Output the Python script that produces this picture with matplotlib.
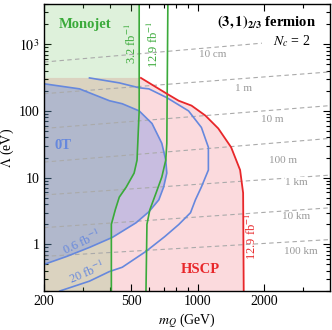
import numpy as np
import matplotlib
matplotlib.use("Agg")
import matplotlib.pyplot as plt
from matplotlib.ticker import FixedLocator, NullFormatter

plt.rcParams['font.family'] = 'serif'
plt.rcParams['font.serif'] = ['Liberation Serif', 'DejaVu Serif']
plt.rcParams['mathtext.fontset'] = 'stix'

# monojet limits, m_Q in GeV vs Lambda in eV
mono32_lam = [4000, 100, 18.3, 11.7, 7.2, 5.1, 3.3, 2.0, 0.2]
mono32_m = [542, 542, 530, 514, 473, 440, 422, 405, 405]
mono129_lam = [4000, 32.7, 18.3, 10.2, 5.9, 3.3, 2.0, 0.2]
mono129_m = [732, 724, 716, 687, 647, 606, 588, 582]

# HSCP 12.9 fb^-1 boundary
hscp_m = [552, 724, 820, 938, 1085, 1241, 1420, 1560, 1610, 1620]
hscp_lam = [312, 181, 142, 120, 85, 54.6, 28.5, 13, 5.9, 0.2]

# 0T 0.6 fb^-1 region
m06 = [200, 290, 397, 454, 542, 620, 687, 716, 724, 700, 666, 600, 525, 409, 322, 254, 200]
lam06 = [255, 214, 142, 128, 100, 64.8, 32.7, 18.3, 11.7, 7.2, 4.65, 3.08, 2.11, 1.27, 0.9, 0.66, 0.5]

# 0T 20 fb^-1 line
m20 = [322, 440, 542, 600, 724, 909, 1040, 1119, 1119, 1040, 977, 928, 820, 709, 582, 454, 396, 322, 236]
lam20 = [312, 263, 222, 214, 158, 100, 56.5, 28.5, 13, 7.25, 4.65, 2.98, 1.98, 1.31, 0.785, 0.454, 0.39, 0.281, 0.2]

# decay length contours
dist_names = ["10 cm", "1 m", "10 m", "100 m", "1 km", "10 km", "100 km"]
dist_m0 = [200, 200, 200, 200, 200, 200, 200]
dist_m1 = [1960, 4000, 4000, 4000, 4000, 4000, 4000]
dist_lam0 = [540, 181, 54.6, 17.1, 5.5, 1.78, 0.66]
dist_lam1 = [1035, 384, 120, 38.7, 10.9, 3.53, 1.18]
dist_lab_m = [1166, 1610, 2176, 2438, 2816, 2790, 2936]
dist_lab_lam = [710, 214, 74, 18.3, 8.6, 2.6, 0.78]

green = '#3aaa3a'
red = '#e8272a'
blue = '#6688dd'

fig = plt.figure(figsize=(3.32, 3.30), dpi=100)
ax = fig.add_axes([44/332, 39/330, 286/332, 287/330])
ax.set_xscale('log')
ax.set_yscale('log')
ax.set_xlim(200, 4000)
ax.set_ylim(0.2, 4000)

# HSCP excluded region
pink_x = [200, 200] + hscp_m
pink_y = [0.2, hscp_lam[0]] + hscp_lam
ax.fill(pink_x, pink_y, color='#fbdadd', lw=0, zorder=1)
# monojet region
ax.fill_betweenx(mono32_lam, 200, mono32_m, color=(0.37, 0.73, 0.31), alpha=0.2, lw=0, zorder=2)
# 0T region
ax.fill(m06, lam06, color=(0.32, 0.48, 0.91), alpha=0.3, lw=0, zorder=3)

for i in range(len(dist_names)):
    ax.plot([dist_m0[i], dist_m1[i]], [dist_lam0[i], dist_lam1[i]], color='#aaaaaa',
            lw=0.8, dashes=(4, 3), zorder=4)
    ax.text(dist_lab_m[i], dist_lab_lam[i], dist_names[i], color='#999999', fontsize=8,
            ha='center', va='center', zorder=5,
            bbox=dict(facecolor='white', edgecolor='none', pad=0.5))

ax.plot(m06, lam06, color=blue, lw=1.2, zorder=6)
ax.plot(m20, lam20, color=blue, lw=1.2, zorder=6)
ax.plot(mono32_m, mono32_lam, color=green, lw=1.2, zorder=7)
ax.plot(mono129_m, mono129_lam, color=green, lw=1.2, zorder=7)
ax.plot(hscp_m, hscp_lam, color=red, lw=1.3, zorder=7)

# labels
ax.text(306, 1983, 'Monojet', color=green, fontsize=10.5, fontweight='bold', ha='center', va='center')
ax.text(498, 1035, r'3.2 fb$^{-1}$', color=green, fontsize=9, rotation=90, ha='center', va='center')
ax.text(632, 1000, r'12.9 fb$^{-1}$', color=green, fontsize=9, rotation=90, ha='center', va='center')
ax.text(243, 30.5, '0T', color=blue, fontsize=10.5, fontweight='bold', ha='center', va='center')
ax.text(296, 1.07, r'0.6 fb$^{-1}$', color=blue, fontsize=9, rotation=25, ha='center', va='center', zorder=8)
ax.text(313, 0.38, r'20 fb$^{-1}$', color=blue, fontsize=9, rotation=23, ha='center', va='center', zorder=8)
ax.text(1030, 0.42, 'HSCP', color=red, fontsize=10.5, fontweight='bold', ha='center', va='center')
ax.text(1750, 1.31, r'12.9 fb$^{-1}$', color=red, fontsize=9, rotation=90, ha='center', va='center')
ax.text(0.951, 0.937, r'$\mathbf{(3,1)_{2/3}}$ fermion', transform=ax.transAxes, fontsize=10.5,
        fontweight='bold', ha='right', va='center')
ax.text(0.93, 0.871, r'$N_c$ = 2', transform=ax.transAxes, fontsize=10, ha='right', va='center')

ax.xaxis.set_major_locator(FixedLocator([200, 500, 1000, 2000]))
ax.xaxis.set_minor_locator(FixedLocator([300, 400, 600, 700, 800, 900, 3000]))
ax.set_xticklabels(['200', '500', '1000', '2000'])
ax.xaxis.set_minor_formatter(NullFormatter())
ymaj = [1, 10, 100, 1000]
ymin = [d * k for d in [0.1, 1, 10, 100, 1000] for k in range(2, 10) if 0.2 <= d * k <= 4000]
ax.yaxis.set_major_locator(FixedLocator(ymaj))
ax.yaxis.set_minor_locator(FixedLocator(ymin))
ax.set_yticklabels(['1', '10', '100', r'$10^3$'])
ax.yaxis.set_minor_formatter(NullFormatter())
ax.tick_params(which='both', direction='in', top=True, right=True, labelsize=10, width=0.8)
ax.tick_params(which='major', length=5, pad=3)
ax.tick_params(which='minor', length=3)
for s in ax.spines.values():
    s.set_linewidth(1.0)
    s.set_zorder(10)

ax.set_xlabel(r'$m_Q$ (GeV)', fontsize=10, labelpad=2)
ax.set_ylabel(r'$\Lambda$ (eV)', fontsize=10, labelpad=2)

fig.savefig('out.png', dpi=100)
